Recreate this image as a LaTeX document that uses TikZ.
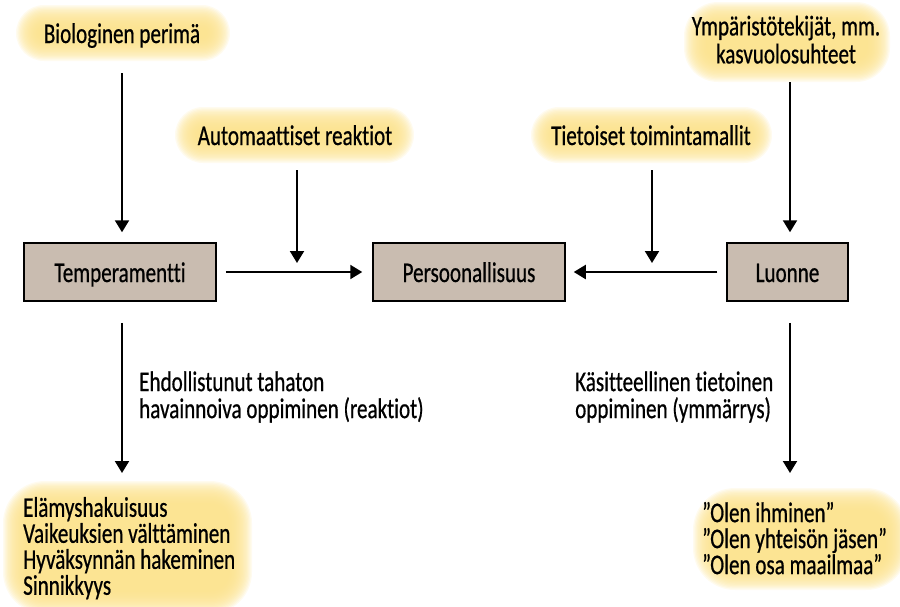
\documentclass[tikz,border=0pt]{standalone}
\usepackage{fontspec}
\setmainfont{Carlito}[FakeStretch=0.74, FakeBold=0.6, Ligatures={NoCommon}]
\usetikzlibrary{arrows.meta,calc}
\setlength\lineskiplimit{-100pt}
\definecolor{glowc}{RGB}{252,226,140}
\definecolor{boxc}{RGB}{201,188,176}
\newcommand\glowbox[5]{%
  \foreach \i in {0,...,17}{%
    \pgfmathsetmacro\rr{#5-\i*1.3}%
    \fill[glowc, opacity=0.14, rounded corners=\rr pt]
      (#1+\i*1.3, #2+\i*1.3) rectangle (#3-\i*1.3, #4-\i*1.3);
  }}
\tikzset{
  lbl/.style={font=\fontsize{28.5}{27}\selectfont, inner sep=0pt},
  boxn/.style={draw, line width=1.5pt, fill=boxc, minimum height=58pt, inner sep=0pt,
    text height=24pt, text depth=4pt, font=\fontsize{28.5}{27}\selectfont},
  arr/.style={line width=2pt, -{Triangle[length=12pt,width=14pt]}}
}
\begin{document}
\begin{tikzpicture}[x=1pt,y=-1pt]
\useasboundingbox (0,0) rectangle (900,606);
% glows
\glowbox{16}{5}{230}{61}{28}
\glowbox{684}{2}{890}{82}{34}
\glowbox{175}{107}{414}{163}{28}
\glowbox{531}{107}{772}{163}{28}
\glowbox{3}{481}{252}{614}{42}
\glowbox{693}{488}{908}{590}{42}
% glow texts
\node[lbl, anchor=base] (bio) at (122,43) {Biologinen perimä};
\node[lbl, anchor=north, align=center, font=\fontsize{28.5}{28}\selectfont] (ymp) at (786,15.4)
  {\strut Ympäristötekijät, mm.\\\strut kasvuolosuhteet};
\node[lbl, anchor=base] (auto) at (295,145) {Automaattiset reaktiot};
\node[lbl, anchor=base] (tiet) at (651,145) {Tietoiset toimintamallit};
% boxes
\node[boxn, minimum width=192pt] (temp) at (120,272) {Temperamentti};
\node[boxn, minimum width=192pt] (pers) at (469,272) {Persoonallisuus};
\node[boxn, minimum width=121pt] (luon) at (787.5,272) {Luonne};
% side labels
\node[lbl, anchor=north west, align=left] (ehd) at (139,371.1)
  {\strut Ehdollistunut tahaton\\\strut havainnoiva oppiminen (reaktiot)};
\node[lbl, anchor=north west, align=left] (kas) at (575,371.1)
  {\strut Käsitteellinen tietoinen\\\strut oppiminen (ymmärrys)};
% bottom
\node[lbl, anchor=north west, align=left, font=\fontsize{28.5}{26}\selectfont] (piirteet) at (23,496.8)
  {\strut Elämyshakuisuus\\\strut Vaikeuksien välttäminen\\\strut Hyväksynnän hakeminen\\\strut Sinnikkyys};
\node[lbl, anchor=north west, align=left, font=\fontsize{28.5}{26}\selectfont] (olen) at (702,501.8)
  {\strut ”Olen ihminen”\\\strut ”Olen yhteisön jäsen”\\\strut ”Olen osa maailmaa”};
% arrow coordinates
\coordinate (bioS) at (122,73);
\coordinate (ympS) at (790,82);
\coordinate (autoS) at (297,170);
\coordinate (autoE) at (297,263);
\coordinate (tietS) at (652,170);
\coordinate (tietE) at (652,263);
\coordinate (tempE) at (122,473);
\coordinate (luonE) at (790,473);
% arrows
\draw[arr] (bioS) -- ($(bioS |- temp.north)+(0,-10)$);
\draw[arr] (ympS) -- ($(ympS |- luon.north)+(0,-10)$);
\draw[arr] (autoS) -- (autoE);
\draw[arr] (tietS) -- (tietE);
\draw[arr] ($(temp.east)+(9,0)$) -- ($(pers.west)+(-10,0)$);
\draw[arr] ($(luon.west)+(-9,0)$) -- ($(pers.east)+(8,0)$);
\draw[arr] ($(tempE |- temp.south)+(0,21)$) -- (tempE);
\draw[arr] ($(luonE |- luon.south)+(0,21)$) -- (luonE);
\end{tikzpicture}
\end{document}
